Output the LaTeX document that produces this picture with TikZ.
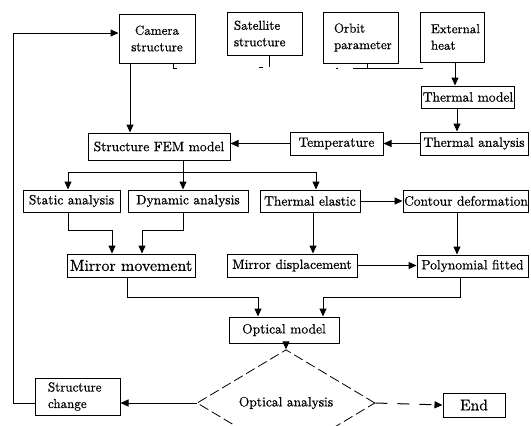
\documentclass[tikz,border=0pt]{standalone}
\usepackage{fontspec}
\setmainfont{lmroman10-regular.otf}[FakeBold=0.6]
\usetikzlibrary{arrows.meta,shapes.geometric}
\begin{document}
\begin{tikzpicture}[x=1pt,y=-1pt,
  box/.style={draw, line width=1pt, inner sep=1pt, font=\fontsize{13.5}{15}\selectfont},
  tbox/.style={draw, line width=1pt, inner ysep=2pt, align=left, font=\fontsize{13}{16.5}\selectfont},
  arr/.style={line width=1pt, -{Triangle[length=8pt,width=7pt]}},
  ln/.style={line width=1pt},
  dsh/.style={dash pattern=on 10pt off 4pt}]
\useasboundingbox (0,0) rectangle (531,426);
% top row
\node[tbox, align=center, minimum width=76, minimum height=49] (cam) at (157,38.5) {Camera\\structure};
\node[tbox, inner xsep=7, text width=61, minimum height=43] (sat) at (264.5,33.5) {Satellite\\structure};
\node[tbox, inner xsep=11, text width=53, minimum height=51] (orb) at (360.5,37.5) {Orbit\\parameter};
\node[tbox, inner xsep=11, text width=42, minimum height=50] (ext) at (452,37) {External\\heat};
% thermal chain
\node[box, minimum width=92, minimum height=22] (thm) at (468,97) {Thermal model};
\node[box, minimum width=108, minimum height=23] (tha) at (474,143.5) {Thermal analysis};
\node[box, minimum width=93, minimum height=23] (temp) at (336.5,143.5) {Temperature};
\node[box, minimum width=142, minimum height=27] (fem) at (159,146.5) {Structure FEM model};
% analysis row
\node[box, minimum width=97, minimum height=22] (stat) at (71.5,201) {Static analysis};
\node[box, minimum width=120, minimum height=22] (dyn) at (188,201) {Dynamic analysis};
\node[box, minimum width=100, minimum height=22] (tel) at (310,201) {Thermal elastic};
\node[box, minimum width=124, minimum height=22] (con) at (466,201) {Contour deformation};
% mirror row
\node[box, font=\fontsize{16}{18}\selectfont, minimum width=128, minimum height=23] (mm) at (131,265.5) {Mirror movement};
\node[box, minimum width=130, minimum height=23] (md) at (292,265.5) {Mirror displacement};
\node[box, minimum width=111, minimum height=22] (poly) at (472.5,266) {Polynomial fitted};
% optical
\node[box, minimum width=110, minimum height=26] (opt) at (284,330) {Optical model};
\node[box, shape=diamond, dsh, line width=0.8pt, inner sep=0pt, minimum width=178, minimum height=46] (dia) at (286,403) {Optical analysis};
\node[tbox, inner xsep=13, text width=59, minimum height=37] (sc) at (77.5,396.5) {Structure\\change};
\node[box, font=\fontsize{15.5}{17}\selectfont, minimum width=62, minimum height=24] (end) at (474,405) {End};
% helper coordinates
\coordinate (xa) at (130,0);
\coordinate (xb) at (455,0);
\coordinate (xc) at (457,0);
\coordinate (jf) at (183,172);
\coordinate (xd) at (68,0);
\coordinate (xe) at (316,0);
\coordinate (xf) at (313,0);
\coordinate (k1) at (112,230);
\coordinate (k2) at (142,230);
\coordinate (k3) at (127,297);
\coordinate (k4) at (258,297);
\coordinate (k5) at (460,297);
\coordinate (k6) at (323,297);
\coordinate (k7) at (13,33);
% connectors
\draw[arr] (cam.south -| xa) -- (fem.north -| xa);
\draw[arr] (ext.south -| xb) -- (thm.north -| xb);
\draw[arr] (thm.south -| xc) -- (tha.north -| xc);
\draw[arr] (tha.west) -- (temp.east);
\draw[arr] (temp.west) -- (temp.west -| fem.east);
\draw[ln] (fem.south -| jf) -- (jf);
\draw[arr] (jf) -- (dyn.north -| jf);
\draw[arr] (jf) -| (stat.north -| xd);
\draw[arr] (jf) -| (tel.north -| xe);
\draw[arr] (stat.south -| xd) |- (k1) -- (mm.north -| k1);
\draw[arr] (dyn.south -| jf) |- (k2) -- (mm.north -| k2);
\draw[arr] (tel.east) -- (con.west);
\draw[arr] (tel.south -| xf) -- (md.north -| xf);
\draw[arr] (con.south -| xc) -- (poly.north -| xc);
\draw[arr] (md.east) -- (md.east -| poly.west);
\draw[arr] (mm.south -| k3) -- (k3) -- (k4) -- (opt.north -| k4);
\draw[arr] (poly.south -| k5) -- (k5) -- (k6) -- (opt.north -| k6);
\draw[arr] (opt.south -| dia.north) -- (dia.north);
\draw[arr] (dia.west) -- (dia.west -| sc.east);
\draw[arr, dash pattern=on 12pt off 10pt] (dia.east) -- (end.west);
\draw[arr] (sc.west |- dia.west) -| (k7) -- (k7 -| cam.west);
% stray fragments under the top boxes
\draw[ln] (173,63) -- (173,68) -- (177,68);
\draw[ln] (259,67) -- (263,67);
\draw[ln] (269,55) -- (269,67);
\draw[ln] (336,68) -- (338,68);
\draw[ln] (353,68) -- (423,68);
\draw[ln] (367,63) -- (367,68);
\end{tikzpicture}
\end{document}
